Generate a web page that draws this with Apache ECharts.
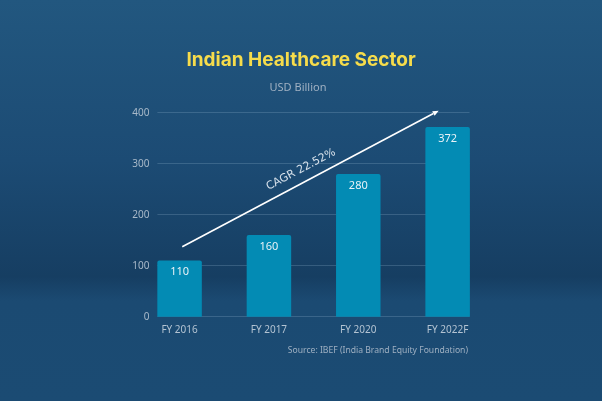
<!DOCTYPE html>
<html><head><meta charset="utf-8">
<script src="https://cdn.jsdelivr.net/npm/echarts@6/dist/echarts.min.js"></script>
<style>html,body{margin:0;padding:0;background:#1c4a72}#c{width:602px;height:401px}</style>
</head><body><div id="c"></div>
<script>
const titleText = 'Indian Healthcare Sector';
const subtitleText = 'USD Billion';
const sourceText = 'Source: IBEF (India Brand Equity Foundation)';
const categories = ['FY 2016', 'FY 2017', 'FY 2020', 'FY 2022F'];
const values = [110, 160, 280, 372];
const yMin = 0, yMax = 400, yStep = 100;
const cagrLabel = 'CAGR 22.52%';
const arrowFrom = [0.03, 137];
const arrowTo = [2.90, 404];

const chart = echarts.init(document.getElementById('c'));
const font = 'Noto Sans';
const labelColor = '#a8b9c9';
chart.setOption({
  backgroundColor: {
    type: 'linear', x: 0, y: 0, x2: 0, y2: 1,
    colorStops: [
      {offset: 0, color: '#22577f'},
      {offset: 0.4, color: '#1c4b74'},
      {offset: 0.69, color: '#163e62'},
      {offset: 0.75, color: '#1b4a72'},
      {offset: 1, color: '#1b4b73'}
    ]
  },
  title: [
    {text: titleText, left: 'center', top: 46,
     textStyle: {color: '#f6dc4b', fontFamily: 'Inter', fontWeight: 'bold', fontSize: 19}},
    {text: subtitleText, left: 293, top: 77, textAlign: 'center',
     textStyle: {color: '#9fb0c2', fontFamily: font, fontWeight: 'normal', fontSize: 11}},
    {text: sourceText, right: 129, top: 341,
     textStyle: {color: '#9fb0c2', fontFamily: font, fontWeight: 'normal', fontSize: 8.6}}
  ],
  grid: [
    {left: 134.9, right: 109.7, top: 112.7, bottom: 84.3},
    {left: 157.4, right: 132.5, top: 112.7, bottom: 84.3}
  ],
  xAxis: [
    {type: 'category', gridIndex: 0, data: categories,
     axisLine: {show: false}, axisTick: {show: false},
     axisLabel: {color: '#b3c3d2', fontFamily: font, fontSize: 10, margin: 8}},
    {type: 'value', gridIndex: 0, min: -0.5, max: 3.5, show: false},
    {type: 'value', gridIndex: 1, min: 0, max: 1, show: false}
  ],
  yAxis: [
    {type: 'value', gridIndex: 0, min: yMin, max: yMax, interval: yStep, show: false},
    {type: 'value', gridIndex: 1, min: yMin, max: yMax, interval: yStep,
     axisLine: {show: false}, axisTick: {show: false},
     axisLabel: {color: labelColor, fontFamily: font, fontSize: 10, margin: 8},
     splitLine: {lineStyle: {color: 'rgba(170,200,225,0.22)', width: 1}}}
  ],
  series: [
    {type: 'bar', xAxisIndex: 0, yAxisIndex: 0, data: values, barWidth: 44.5,
     itemStyle: {color: '#038bb4', borderRadius: [2, 2, 0, 0]},
     label: {show: true, position: 'insideTop', distance: 6, color: '#e8f2f7',
             fontFamily: font, fontSize: 11}}
  ]
});

const p0 = chart.convertToPixel({xAxisIndex: 1, yAxisIndex: 0}, arrowFrom);
const p1 = chart.convertToPixel({xAxisIndex: 1, yAxisIndex: 0}, arrowTo);
const dx = p1[0] - p0[0], dy = p1[1] - p0[1];
const len = Math.sqrt(dx * dx + dy * dy);
const ux = dx / len, uy = dy / len;
const nx = uy, ny = -ux;
const head = 6, halfW = 2.6;
const base = [p1[0] - ux * head, p1[1] - uy * head];
const angle = Math.atan2(-dy, dx);
const mid = [(p0[0] + p1[0]) / 2 - ux * 4 + nx * 12.5, (p0[1] + p1[1]) / 2 - uy * 4 + ny * 12.5];
chart.setOption({
  graphic: [
    {type: 'line', silent: true,
     shape: {x1: p0[0], y1: p0[1], x2: base[0], y2: base[1]},
     style: {stroke: '#ffffff', lineWidth: 1.6}},
    {type: 'polygon', silent: true,
     shape: {points: [[p1[0], p1[1]],
                      [base[0] + nx * halfW, base[1] + ny * halfW],
                      [base[0] - nx * halfW, base[1] - ny * halfW]]},
     style: {fill: '#ffffff'}},
    {type: 'text', silent: true, x: mid[0], y: mid[1], rotation: angle,
     style: {text: cagrLabel, fill: '#d6e0ea', font: '11px "DejaVu Sans"',
             textAlign: 'center', textVerticalAlign: 'middle'}}
  ]
});
</script></body></html>
